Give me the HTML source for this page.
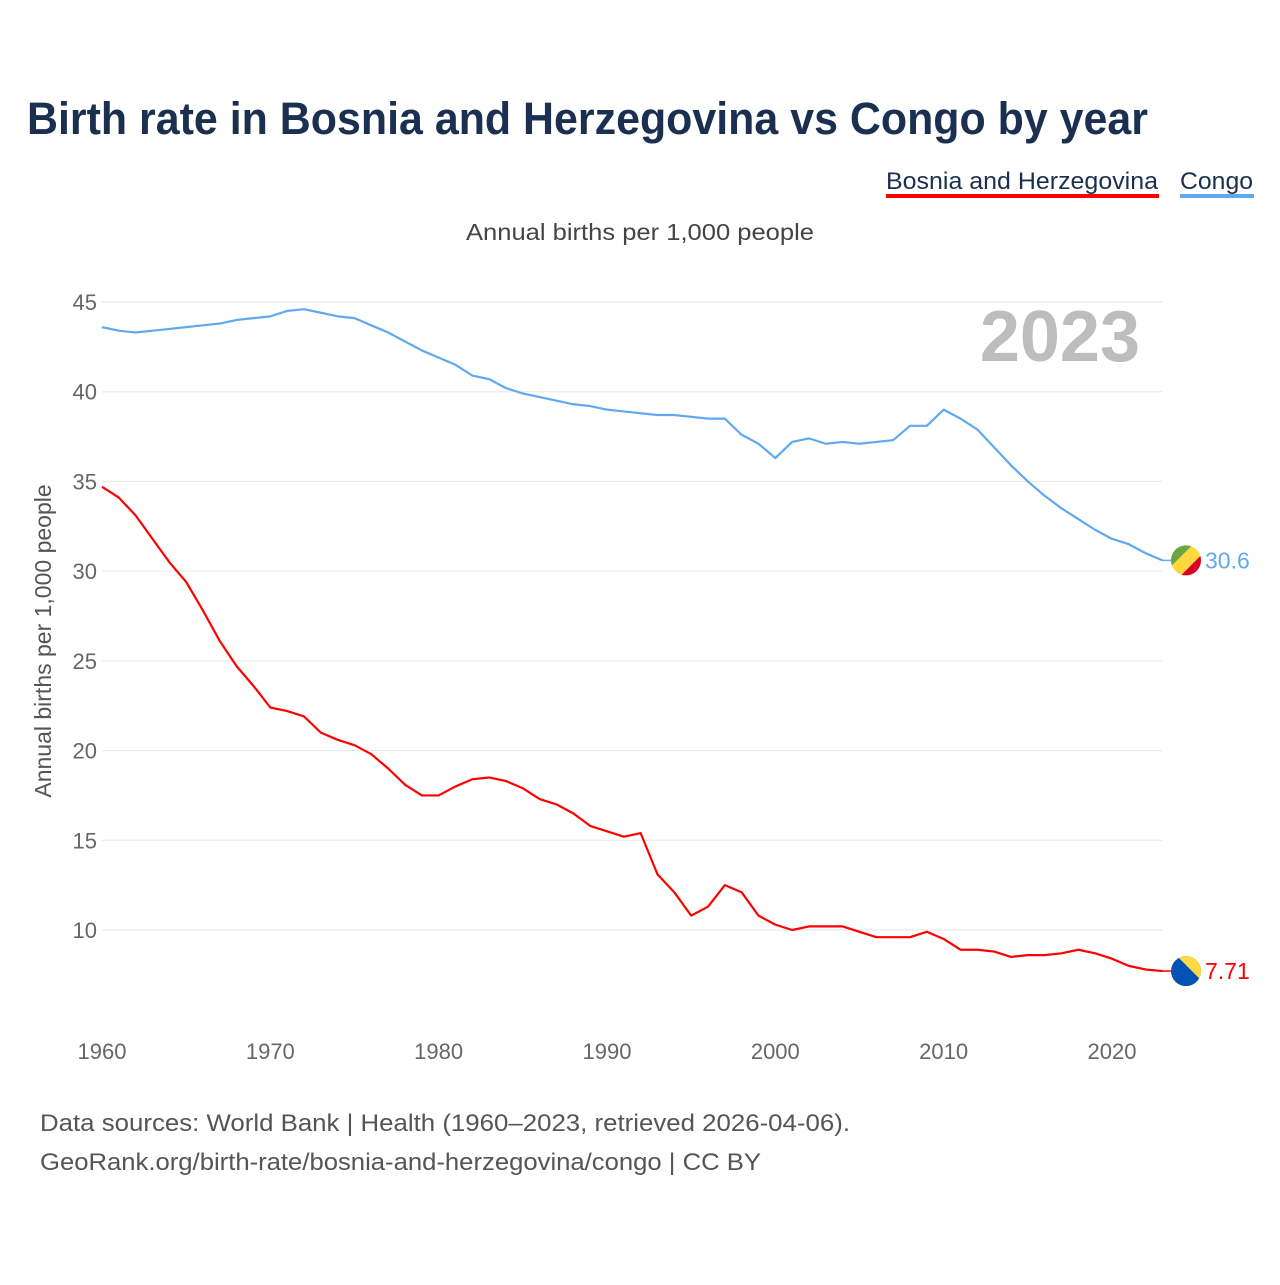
<!DOCTYPE html>
<html><head><meta charset="utf-8"><style>
body{margin:0;background:#fff;font-family:"Liberation Sans",sans-serif;}
#wrap{position:relative;width:1280px;height:1280px;}
</style></head><body>
<div id="wrap">
<svg id="chart" width="1280" height="1280">
<text x="27" y="134" font-size="45" font-weight="bold" fill="#1b3050" textLength="1121" lengthAdjust="spacingAndGlyphs">Birth rate in Bosnia and Herzegovina vs Congo by year</text>
<text x="886" y="189" font-size="24" fill="#1b3050" textLength="272" lengthAdjust="spacingAndGlyphs">Bosnia and Herzegovina</text>
<rect x="886" y="194" width="273" height="4" fill="#ff0000"/>
<text x="1180" y="189" font-size="24" fill="#1b3050" textLength="73" lengthAdjust="spacingAndGlyphs">Congo</text>
<rect x="1180" y="194" width="74" height="4" fill="#5ea9ef"/>
<text x="466" y="240" font-size="23" fill="#444" textLength="348" lengthAdjust="spacingAndGlyphs">Annual births per 1,000 people</text>
<text x="1140" y="361" font-size="72" font-weight="bold" fill="#bdbdbd" text-anchor="end">2023</text>
<text transform="translate(51,641) rotate(-90)" font-size="23" fill="#555" text-anchor="middle">Annual births per 1,000 people</text>
<g id="grid"></g><g id="lines"></g>
<text x="40" y="1131" font-size="24" fill="#555" textLength="810" lengthAdjust="spacingAndGlyphs">Data sources: World Bank | Health (1960–2023, retrieved 2026-04-06).</text>
<text x="40" y="1170" font-size="24" fill="#555" textLength="721" lengthAdjust="spacingAndGlyphs">GeoRank.org/birth-rate/bosnia-and-herzegovina/congo | CC BY</text>
</svg></div>
<script>
const years=[];for(let y=1960;y<=2023;y++)years.push(y);
const congo=[43.6,43.4,43.3,43.4,43.5,43.6,43.7,43.8,44.0,44.1,44.2,44.5,44.6,44.4,44.2,44.1,43.7,43.3,42.8,42.3,41.9,41.5,40.9,40.7,40.2,39.9,39.7,39.5,39.3,39.2,39.0,38.9,38.8,38.7,38.7,38.6,38.5,38.5,37.6,37.1,36.3,37.2,37.4,37.1,37.2,37.1,37.2,37.3,38.1,38.1,39.0,38.5,37.9,36.9,35.9,35.0,34.2,33.5,32.9,32.3,31.8,31.5,31.0,30.6];
const bosnia=[34.7,34.1,33.1,31.8,30.5,29.4,27.8,26.1,24.7,23.6,22.4,22.2,21.9,21.0,20.6,20.3,19.8,19.0,18.1,17.5,17.5,18.0,18.4,18.5,18.3,17.9,17.3,17.0,16.5,15.8,15.5,15.2,15.4,13.1,12.1,10.8,11.3,12.5,12.1,10.8,10.3,10.0,10.2,10.2,10.2,9.9,9.6,9.6,9.6,9.9,9.5,8.9,8.9,8.8,8.5,8.6,8.6,8.7,8.9,8.7,8.4,8.0,7.8,7.71];
const yTicks=[10,15,20,25,30,35,40,45];
const xTicks=[1960,1970,1980,1990,2000,2010,2020];
const X=y=>102+(y-1960)*16.833, Y=v=>930-(v-10)*17.943;
const NS='http://www.w3.org/2000/svg';
function mk(t,a,p){const e=document.createElementNS(NS,t);for(const k in a)e.setAttribute(k,a[k]);p.appendChild(e);return e;}
const grid=document.getElementById('grid'),lines=document.getElementById('lines');
yTicks.forEach(v=>{
 const l=mk('line',{x1:102,x2:1162,y1:Y(v),y2:Y(v),stroke:'#e6e6e6','stroke-width':1},grid);
 
 
 const t=mk('text',{x:97,y:Y(v)+8,'font-size':22,fill:'#666','text-anchor':'end'},grid);t.textContent=v;
 
 
});
xTicks.forEach(v=>{
 const t=mk('text',{x:X(v),y:1059,'font-size':22,fill:'#666','text-anchor':'middle'},grid);t.textContent=v;
 
 
});
function line(data,color,name){
 const p=mk('polyline',{points:data.map((v,i)=>X(years[i])+','+Y(v)).join(' '),fill:'none',stroke:color,'stroke-width':2.2,'stroke-linejoin':'round'},lines);
 
 
}
line(congo,'#5ea9ef','congo-line');
line(bosnia,'#ff0000','bosnia-line');
const cy=Y(congo[congo.length-1]),by=Y(bosnia[bosnia.length-1]);
mk('line',{x1:1162,x2:1172,y1:cy,y2:cy,stroke:'#5ea9ef','stroke-width':1.5},lines);
mk('line',{x1:1162,x2:1172,y1:by,y2:by,stroke:'#ff0000','stroke-width':1.5},lines);
const defs=mk('defs',{},lines);
const c1=mk('clipPath',{id:'cc'},defs);mk('circle',{cx:1186,cy:cy,r:15},c1);
const c2=mk('clipPath',{id:'cb'},defs);mk('circle',{cx:1186,cy:by,r:15},c2);
const fc=mk('g',{'clip-path':'url(#cc)'},lines);


mk('rect',{x:1170,y:cy-16,width:32,height:32,fill:'#ffd83d'},fc);
mk('polygon',{points:`1170,${cy-16} 1193,${cy-16} 1170,${cy+7}`,fill:'#6da544'},fc);
mk('polygon',{points:`1202,${cy+16} 1180,${cy+16} 1202,${cy-6}`,fill:'#d80027'},fc);
const fb=mk('g',{'clip-path':'url(#cb)'},lines);


mk('rect',{x:1170,y:by-16,width:32,height:32,fill:'#0052b4'},fb);
mk('polygon',{points:`1176,${by-16} 1202,${by-16} 1202,${by+10}`,fill:'#ffda44'},fb);
const lc=mk('text',{x:1205,y:cy+8,'font-size':23,fill:'#5ea9ef'},lines);lc.textContent=congo[congo.length-1];


const lb=mk('text',{x:1205,y:by+8,'font-size':23,fill:'#ff0000'},lines);lb.textContent=bosnia[bosnia.length-1];


</script>
</body></html>
